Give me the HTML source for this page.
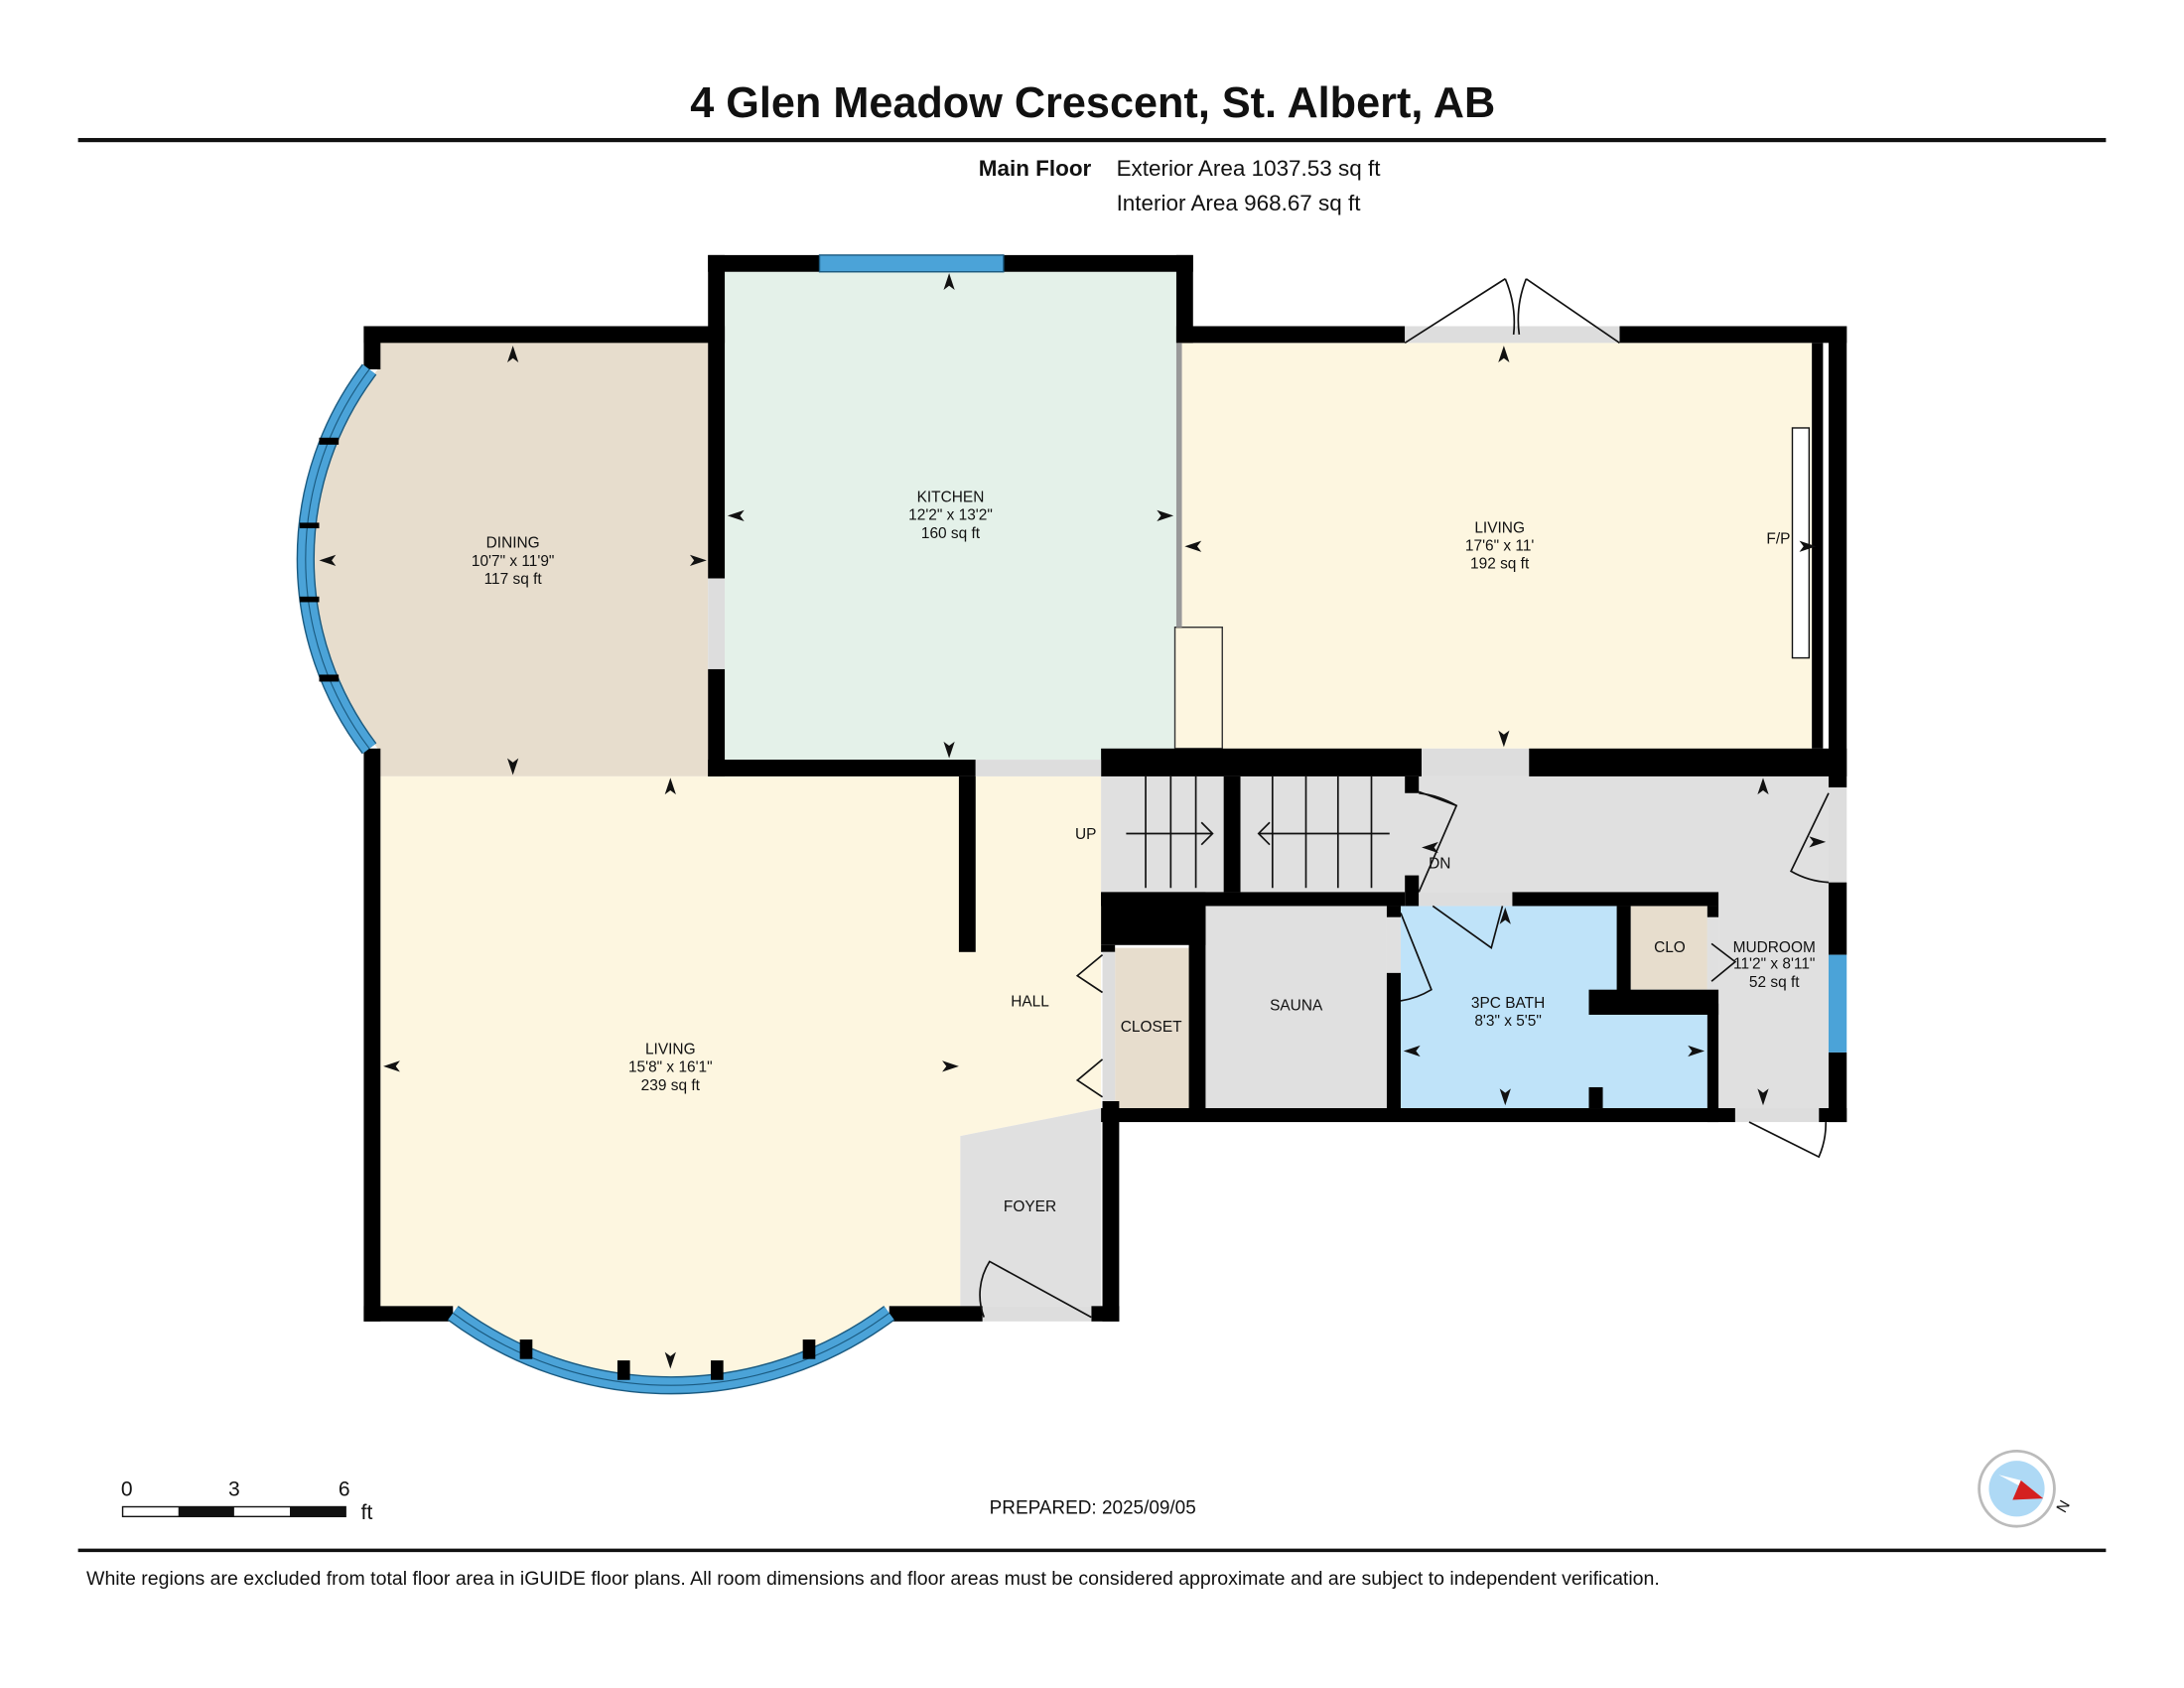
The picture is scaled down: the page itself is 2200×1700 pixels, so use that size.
<!DOCTYPE html>
<html><head><meta charset="utf-8"><style>
html,body{margin:0;padding:0;background:#fff}
svg{display:block}
text{font-family:"Liberation Sans",Arial,sans-serif;fill:#111}
</style></head><body>
<svg width="2200" height="1700" viewBox="0 0 1567 1211" preserveAspectRatio="none" xmlns="http://www.w3.org/2000/svg">
<rect width="1567" height="1211" fill="#fff"/>
<text x="784" y="84" font-size="30.8" font-weight="bold" text-anchor="middle">4 Glen Meadow Crescent, St. Albert, AB</text>
<rect x="56" y="99" width="1455" height="3" fill="#111"/>
<text x="783" y="126" font-size="16" font-weight="bold" text-anchor="end">Main Floor</text>
<text x="801" y="126" font-size="16">Exterior Area 1037.53 sq ft</text>
<text x="801" y="151" font-size="16">Interior Area 968.67 sq ft</text>

<!-- fills -->
<path d="M271 244 L508 244 L508 557 L271 557 L271 537 A225 225 0 0 1 271 265 Z" fill="#e7ddcd"/>
<rect x="520" y="195" width="324" height="350" fill="#e4f1e9"/>
<rect x="848" y="246" width="452" height="291" fill="#fdf6e0"/>
<path d="M273 557 L790 557 L790 795 L689 815 L689 937 L638 937 A249 249 0 0 1 325 937 L273 937 Z" fill="#fdf6e0"/>
<path d="M689 815 L790 795 L790 937 L689 937 Z" fill="#e0e0e0"/>
<rect x="790" y="557" width="522" height="83" fill="#e0e0e0"/>
<rect x="1233" y="557" width="79" height="238" fill="#e0e0e0"/>
<rect x="865" y="650" width="130" height="145" fill="#e0e0e0"/>
<rect x="995" y="658" width="10" height="40" fill="#e0e0e0"/>
<rect x="800" y="680" width="53" height="115" fill="#e7ddcd"/>
<rect x="1005" y="650" width="220" height="145" fill="#bfe3f9"/>
<rect x="1170" y="650" width="55" height="60" fill="#e7ddcd"/>
<rect x="1225" y="658" width="8" height="62" fill="#e0e0e0"/>
<rect x="843" y="450" width="34" height="87" fill="#fdf6e0" stroke="#333" stroke-width="1"/>
<rect x="1286" y="307" width="12" height="165" fill="#fff" stroke="#111" stroke-width="1"/>

<!-- walls -->
<g fill="#000">
<rect x="261" y="234" width="259" height="12"/>
<rect x="261" y="234" width="12" height="31"/>
<rect x="261" y="537" width="12" height="411"/>
<rect x="508" y="183" width="12" height="232"/>
<rect x="508" y="480" width="12" height="77"/>
<rect x="508" y="545" width="192" height="12"/>
<rect x="508" y="183" width="80" height="12"/>
<rect x="720" y="183" width="136" height="12"/>
<rect x="844" y="183" width="12" height="63"/>
<rect x="844" y="234" width="164" height="12"/>
<rect x="1162" y="234" width="163" height="12"/>
<rect x="1312" y="234" width="13" height="331"/>
<rect x="1300" y="246" width="8" height="291"/>
<rect x="790" y="537" width="230" height="20"/>
<rect x="1097" y="537" width="228" height="20"/>
<rect x="688" y="557" width="12" height="126"/>
<rect x="878" y="557" width="12" height="83"/>
<rect x="1008" y="557" width="10" height="12"/>
<rect x="1008" y="628" width="10" height="22"/>
<rect x="790" y="640" width="218" height="10"/>
<rect x="790" y="640" width="75" height="38"/>
<rect x="790" y="678" width="10" height="5"/>
<rect x="853" y="650" width="12" height="150"/>
<rect x="995" y="650" width="10" height="8"/>
<rect x="995" y="698" width="10" height="102"/>
<rect x="1085" y="640" width="148" height="10"/>
<rect x="1160" y="650" width="10" height="70"/>
<rect x="1140" y="710" width="93" height="18"/>
<rect x="1225" y="650" width="8" height="8"/>
<rect x="1225" y="720" width="8" height="85"/>
<rect x="1140" y="780" width="10" height="15"/>
<rect x="1312" y="633" width="13" height="52"/>
<rect x="1312" y="755" width="13" height="50"/>
<rect x="1305" y="795" width="20" height="10"/>
<rect x="790" y="795" width="455" height="10"/>
<rect x="791" y="790" width="12" height="158"/>
<rect x="261" y="937" width="64" height="11"/>
<rect x="638" y="937" width="67" height="11"/>
<rect x="783" y="937" width="20" height="11"/>
</g>
<!-- openings -->
<g fill="#ddd">
<rect x="508" y="415" width="12" height="65"/>
<rect x="700" y="545" width="90" height="12"/>
<rect x="1008" y="234" width="154" height="12"/>
<rect x="1020" y="537" width="77" height="20"/>
<rect x="1018" y="640" width="67" height="10"/>
<rect x="1312" y="565" width="13" height="68"/>
<rect x="1245" y="795" width="60" height="10"/>
<rect x="705" y="937" width="78" height="11"/>
<rect x="791" y="683" width="9" height="107"/>
</g>
<rect x="844" y="246" width="4" height="204" fill="#999"/>
<!-- windows -->
<rect x="588" y="183" width="132" height="12" fill="#4ba3d8" stroke="#1a5a80" stroke-width="1"/>
<rect x="1312" y="685" width="13" height="70" fill="#4ba3d8"/>
<g fill="none">
<path d="M265 265 A225 225 0 0 0 265 537" stroke="#1a5a80" stroke-width="13"/>
<path d="M265 265 A225 225 0 0 0 265 537" stroke="#4ba3d8" stroke-width="11"/>
<path d="M265 265 A225 225 0 0 0 265 537" stroke="#1a5a80" stroke-width="0.8"/>
<path d="M325 942 A262 262 0 0 0 638 942" stroke="#1a5a80" stroke-width="13"/>
<path d="M325 942 A262 262 0 0 0 638 942" stroke="#4ba3d8" stroke-width="11"/>
<path d="M325 942 A262 262 0 0 0 638 942" stroke="#1a5a80" stroke-width="0.8"/>
</g>
<g fill="#000"><rect x="229" y="314" width="14" height="5"/><rect x="215" y="375" width="14" height="4"/><rect x="215" y="428" width="14" height="4"/><rect x="229" y="484" width="14" height="5"/>
<rect x="373" y="961" width="9" height="14"/><rect x="443" y="976" width="9" height="14"/><rect x="510" y="976" width="9" height="14"/><rect x="576" y="961" width="9" height="14"/></g>

<!-- stairs -->
<g stroke="#111" stroke-width="1.2">
<line x1="822" y1="557" x2="822" y2="637"/><line x1="840" y1="557" x2="840" y2="637"/><line x1="858" y1="557" x2="858" y2="637"/>
<line x1="913" y1="557" x2="913" y2="637"/><line x1="937" y1="557" x2="937" y2="637"/><line x1="960" y1="557" x2="960" y2="637"/><line x1="984" y1="557" x2="984" y2="637"/>
<line x1="808" y1="598" x2="870" y2="598"/><polyline points="862,590 870,598 862,606" fill="none"/>
<line x1="903" y1="598" x2="997" y2="598"/><polyline points="911,590 903,598 911,606" fill="none"/>
</g>
<!-- doors -->
<g stroke="#111" stroke-width="1.2" fill="none">
<path d="M1008 246 L1080 200 M1162 246 L1095 200 M1080 200 A80 80 0 0 1 1086 240 M1095 200 A80 80 0 0 0 1090 240"/>
<path d="M1018 568 L1045 578 L1018 640"/>
<path d="M1045 578 A70 70 0 0 0 1018 569"/>
<path d="M1028 650 L1070 680 L1078 650"/>
<path d="M1005 655 L1027 710 A60 60 0 0 1 1005 718"/>
<path d="M1312 569 L1285 625 A60 60 0 0 0 1312 633"/>
<path d="M1255 805 L1305 830 A60 60 0 0 0 1310 805"/>
<path d="M783 945 L710 905 A45 45 0 0 0 706 945"/>
<path d="M791 685 L773 700 L791 712 M791 760 L773 775 L791 787"/>
<path d="M1228 677 L1245 690 L1228 704"/>
</g>

<!-- arrowheads -->
<g fill="#111">
<path d="M368 248 l-4 12 l4 -3 l4 3z"/><path d="M368 556 l-4 -12 l4 3 l4 -3z"/>
<path d="M229 402 l12 -4 l-3 4 l3 4z"/><path d="M507 402 l-12 -4 l3 4 l-3 4z"/>
<path d="M681 196 l-4 12 l4 -3 l4 3z"/><path d="M681 544 l-4 -12 l4 3 l4 -3z"/>
<path d="M522 370 l12 -4 l-3 4 l3 4z"/><path d="M842 370 l-12 -4 l3 4 l-3 4z"/>
<path d="M1079 248 l-4 12 l4 -3 l4 3z"/><path d="M1079 536 l-4 -12 l4 3 l4 -3z"/>
<path d="M850 392 l12 -4 l-3 4 l3 4z"/><path d="M1303 392 l-12 -4 l3 4 l-3 4z"/>
<path d="M481 558 l-4 12 l4 -3 l4 3z"/><path d="M481 982 l-4 -12 l4 3 l4 -3z"/>
<path d="M275 765 l12 -4 l-3 4 l3 4z"/><path d="M688 765 l-12 -4 l3 4 l-3 4z"/>
<path d="M1265 558 l-4 12 l4 -3 l4 3z"/><path d="M1265 793 l-4 -12 l4 3 l4 -3z"/>
<path d="M1310 604 l-12 -4 l3 4 l-3 4z"/><path d="M1020 608 l12 -4 l-3 4 l3 4z"/>
<path d="M1080 651 l-4 12 l4 -3 l4 3z"/><path d="M1080 793 l-4 -12 l4 3 l4 -3z"/>
<path d="M1007 754 l12 -4 l-3 4 l3 4z"/><path d="M1223 754 l-12 -4 l3 4 l-3 4z"/>
</g>

<!-- labels -->
<g font-size="11" text-anchor="middle">
<text x="368" y="393">DINING</text><text x="368" y="406">10'7" x 11'9"</text><text x="368" y="419">117 sq ft</text>
<text x="682" y="360">KITCHEN</text><text x="682" y="373">12'2" x 13'2"</text><text x="682" y="386">160 sq ft</text>
<text x="1076" y="382">LIVING</text><text x="1076" y="395">17'6" x 11'</text><text x="1076" y="408">192 sq ft</text>
<text x="1276" y="390">F/P</text>
<text x="481" y="756">LIVING</text><text x="481" y="769">15'8" x 16'1"</text><text x="481" y="782">239 sq ft</text>
<text x="739" y="722">HALL</text>
<text x="739" y="869">FOYER</text>
<text x="779" y="602">UP</text>
<text x="1033" y="623">DN</text>
<text x="826" y="740">CLOSET</text>
<text x="930" y="725">SAUNA</text>
<text x="1082" y="723">3PC BATH</text><text x="1082" y="736">8'3" x 5'5"</text>
<text x="1198" y="683">CLO</text>
<text x="1273" y="683">MUDROOM</text><text x="1273" y="695">11'2" x 8'11"</text><text x="1273" y="708">52 sq ft</text>
</g>

<!-- bottom -->
<text x="91" y="1073" font-size="15" text-anchor="middle">0</text>
<text x="168" y="1073" font-size="15" text-anchor="middle">3</text>
<text x="247" y="1073" font-size="15" text-anchor="middle">6</text>
<text x="259" y="1090" font-size="15">ft</text>
<rect x="88" y="1081" width="160" height="7" fill="#fff" stroke="#111" stroke-width="1"/>
<rect x="128" y="1081" width="40" height="7" fill="#111"/>
<rect x="208" y="1081" width="40" height="7" fill="#111"/>
<text x="784" y="1086" font-size="13.5" text-anchor="middle">PREPARED: 2025/09/05</text>
<circle cx="1447" cy="1068" r="27" fill="#fff" stroke="#bbb" stroke-width="2"/>
<circle cx="1447" cy="1068" r="20" fill="#aed9f5"/>
<path d="M1434 1058 L1466 1075 L1450 1062 Z" fill="#fff"/>
<path d="M1466 1075 L1450 1062 L1444 1076 Z" fill="#d42020"/>
<text x="1478" y="1088" font-size="11" transform="rotate(-60 1478 1084)">N</text>
<rect x="56" y="1111" width="1455" height="2.5" fill="#111"/>
<text x="62" y="1137" font-size="13.9">White regions are excluded from total floor area in iGUIDE floor plans. All room dimensions and floor areas must be considered approximate and are subject to independent verification.</text>
</svg>
</body></html>
